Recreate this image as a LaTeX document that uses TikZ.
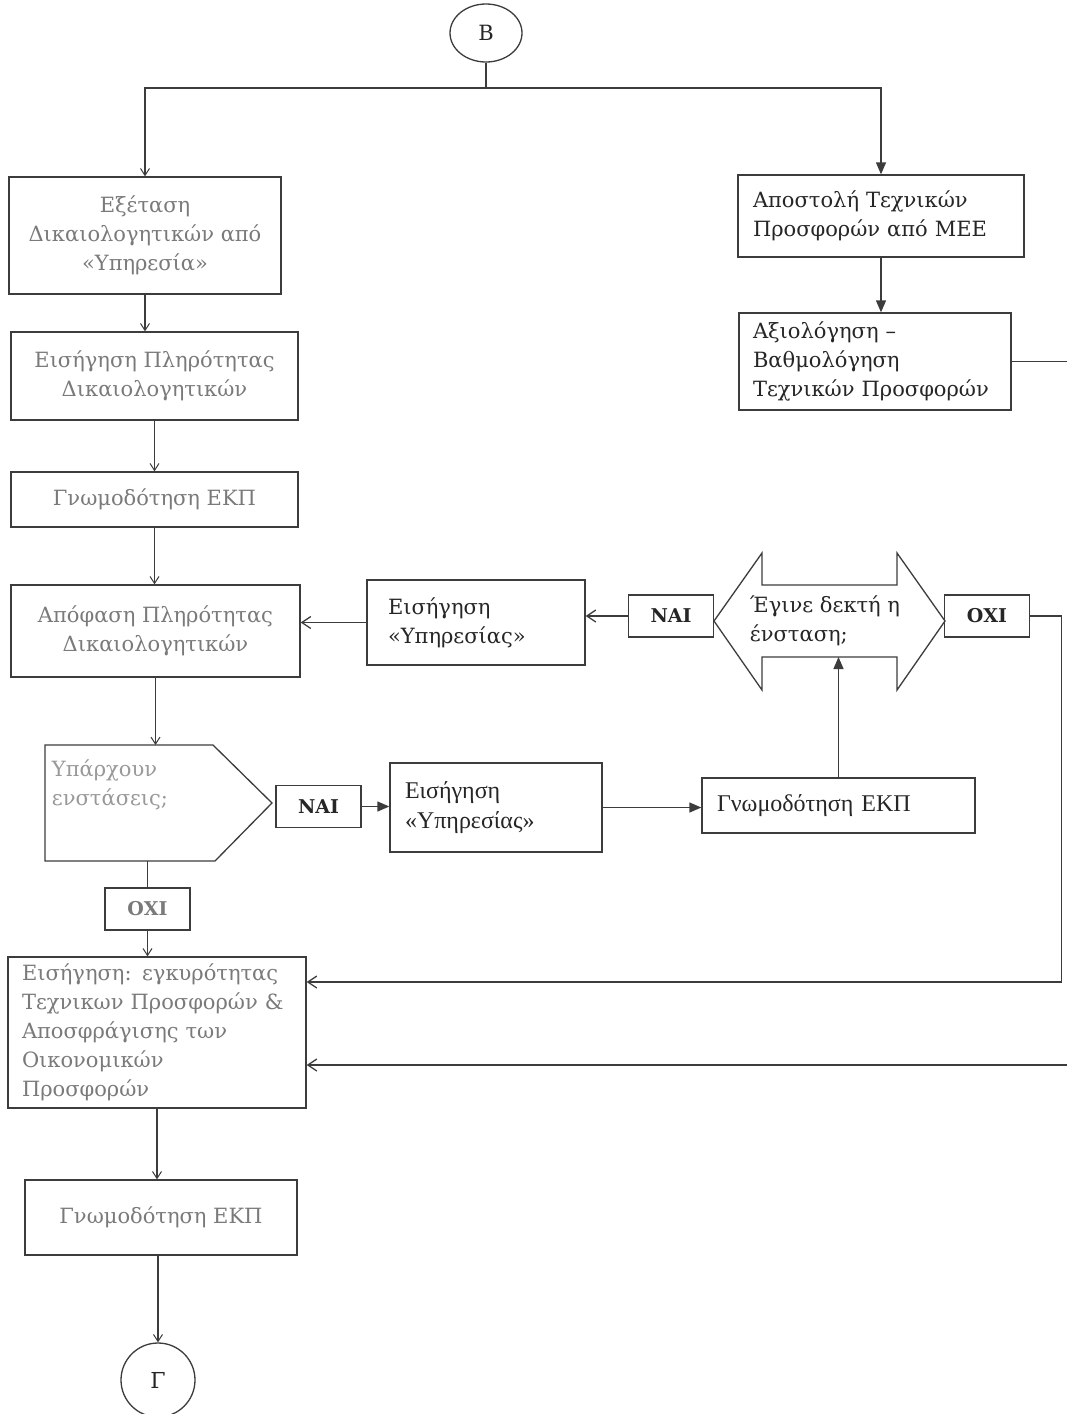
\documentclass[tikz,border=0pt]{standalone}
\usepackage{fontspec}
\setmainfont{DejaVu Serif}
\newfontfamily\tms{Liberation Serif}
\usetikzlibrary{arrows.meta,shapes.geometric}
\definecolor{ln}{HTML}{3C3C3C}
\definecolor{ink}{HTML}{262626}
\definecolor{fade}{HTML}{7A7A7A}
\begin{document}
\begin{tikzpicture}[x=1pt,y=-1pt,color=ln,line width=1.3pt,
    every node/.style={font=\fontsize{21}{29}\selectfont,text=ink},
    box/.style={draw=ln,rectangle,inner sep=0pt},
    faded/.style={text=fade},
    tag/.style={box,minimum width=85pt,minimum height=42pt,font=\fontsize{19}{23}\selectfont\bfseries},
    vee/.style={-{Straight Barb[length=7pt,width=9pt,line width=1pt]}},
    barb/.style={-{Straight Barb[length=9pt,width=12pt]}},
    tri/.style={-{Triangle[length=12pt,width=10pt]}}]
    \useasboundingbox[fill=white] (0,0) rectangle (1066,1414);
    % start and end
    \node[ellipse,draw=ln,minimum width=72pt,minimum height=58pt,inner sep=0pt,
          font=\fontsize{21}{22}\selectfont] (B) at (486,33) {Β};
    \coordinate (top) at (486,88);
    \node[circle,draw=ln,minimum size=74pt,inner sep=0pt,
          font=\fontsize{22}{24}\selectfont] (G) at (158,1380) {Γ};
    % left column
    \node[box,faded,minimum width=272pt,minimum height=117pt,align=center] (b1) at (145,235.5)
        {Εξέταση\\Δικαιολογητικών από\\«Υπηρεσία»};
    \node[box,faded,minimum width=287pt,minimum height=88pt,align=center] (b2) at (154.5,376)
        {Εισήγηση Πληρότητας\\Δικαιολογητικών};
    \node[box,faded,minimum width=287pt,minimum height=55pt] (b3) at (154.5,499.5)
        {Γνωμοδότηση ΕΚΠ};
    \node[box,faded,minimum width=289pt,minimum height=92pt,align=center] (b4) at (155.5,631)
        {Απόφαση Πληρότητας\\Δικαιολογητικών};
    \draw (45,745) -- (213,745) -- (272,803) -- (215,861) -- (45,861) -- cycle;
    \coordinate (decn) at (150,745);
    \coordinate (decs) at (147.5,861);
    \node[text=black!40,anchor=north west,align=left] (dec) at (48,756)
        {Υπάρχουν\\ενστάσεις;};
    \node[tag,faded] (oxi1) at (147.5,909) {ΟΧΙ};
    \node[box,faded,minimum width=298pt,minimum height=151pt,text width=270pt,align=left] (b5) at (157,1032.5)
        {Εισήγηση: εγκυρότητας\\Τεχνικων Προσφορών \&\\Αποσφράγισης των\\Οικονομικών\\Προσφορών};
    \node[box,faded,minimum width=272pt,minimum height=75pt] (b6) at (161,1217.5)
        {Γνωμοδότηση ΕΚΠ};
    % right column
    \node[box,minimum width=286pt,minimum height=82pt,text width=256pt,align=left] (r1) at (881,216)
        {Αποστολή Τεχνικών\\Προσφορών από ΜΕΕ};
    \node[box,minimum width=272pt,minimum height=97pt,text width=244pt,align=left] (r2) at (875,361.5)
        {Αξιολόγηση –\\Βαθμολόγηση\\Τεχνικών Προσφορών};
    % objection loop
    \node[box,minimum width=218pt,minimum height=85pt,text width=176pt,align=left] (e1) at (476,622.5)
        {Εισήγηση\\«Υπηρεσίας»};
    \node[tag] (nai1) at (671,616) {ΝΑΙ};
    \draw (714,621) -- (762,553) -- (762,585) -- (897,585) -- (897,553) -- (945,621)
        -- (897,690) -- (897,657) -- (762,657) -- (762,690) -- cycle;
    \coordinate (accs) at (838.5,657);
    \node[anchor=west,align=left] (acc) at (746,621) {Έγινε δεκτή η\\ένσταση;};
    \node[tag] (oxi2) at (987,616) {ΟΧΙ};
    \node[tag] (nai2) at (318.5,806.5) {ΝΑΙ};
    \node[box,minimum width=212pt,minimum height=89pt,text width=182pt,align=left,
          font=\tms\fontsize{24}{30}\selectfont] (e2) at (496,807.5)
        {Εισήγηση\\«Υπηρεσίας»};
    \node[box,minimum width=273pt,minimum height=55pt,text width=243pt,align=left,
          font=\tms\fontsize{24}{30}\selectfont] (g2) at (838.5,805.5)
        {Γνωμοδότηση ΕΚΠ};
    % connectors
    \draw (B) -- (top);
    \draw[vee] (top) -| (b1);
    \draw[tri] (top) -| (r1);
    \draw[vee] (b1.south) -- (b1.south |- b2.north);
    \draw[vee] (b2.south) -- (b2.south |- b3.north);
    \draw[vee] (b3.south) -- (b3.south |- b4.north);
    \draw[vee] (b4.south) -- (b4.south |- decn);
    \draw (decs) -- (oxi1);
    \draw[vee] (oxi1.south) -- (oxi1.south |- b5.north);
    \draw[vee] (b5.south) -- (b5.south |- b6.north);
    \draw[vee] (G.north |- b6.south) -- (G.north);
    \draw[tri] (r1.south) -- (r1.south |- r2.north);
    \draw[barb] (r2.east) -- ++(70,0) |- (b5.east |- 0,1065);
    \draw[barb] (oxi2.east) -- ++(31,0) |- (b5.east |- 0,982);
    \draw[barb] (nai1.west) -- (nai1.west -| e1.east);
    \draw[barb] (e1.west) -- (e1.west -| b4.east);
    \draw[tri] (nai2.east) -- (nai2.east -| e2.west);
    \draw[tri] (e2.east) -- (e2.east -| g2.west);
    \draw[tri] (g2) -- (accs);
\end{tikzpicture}
\end{document}
